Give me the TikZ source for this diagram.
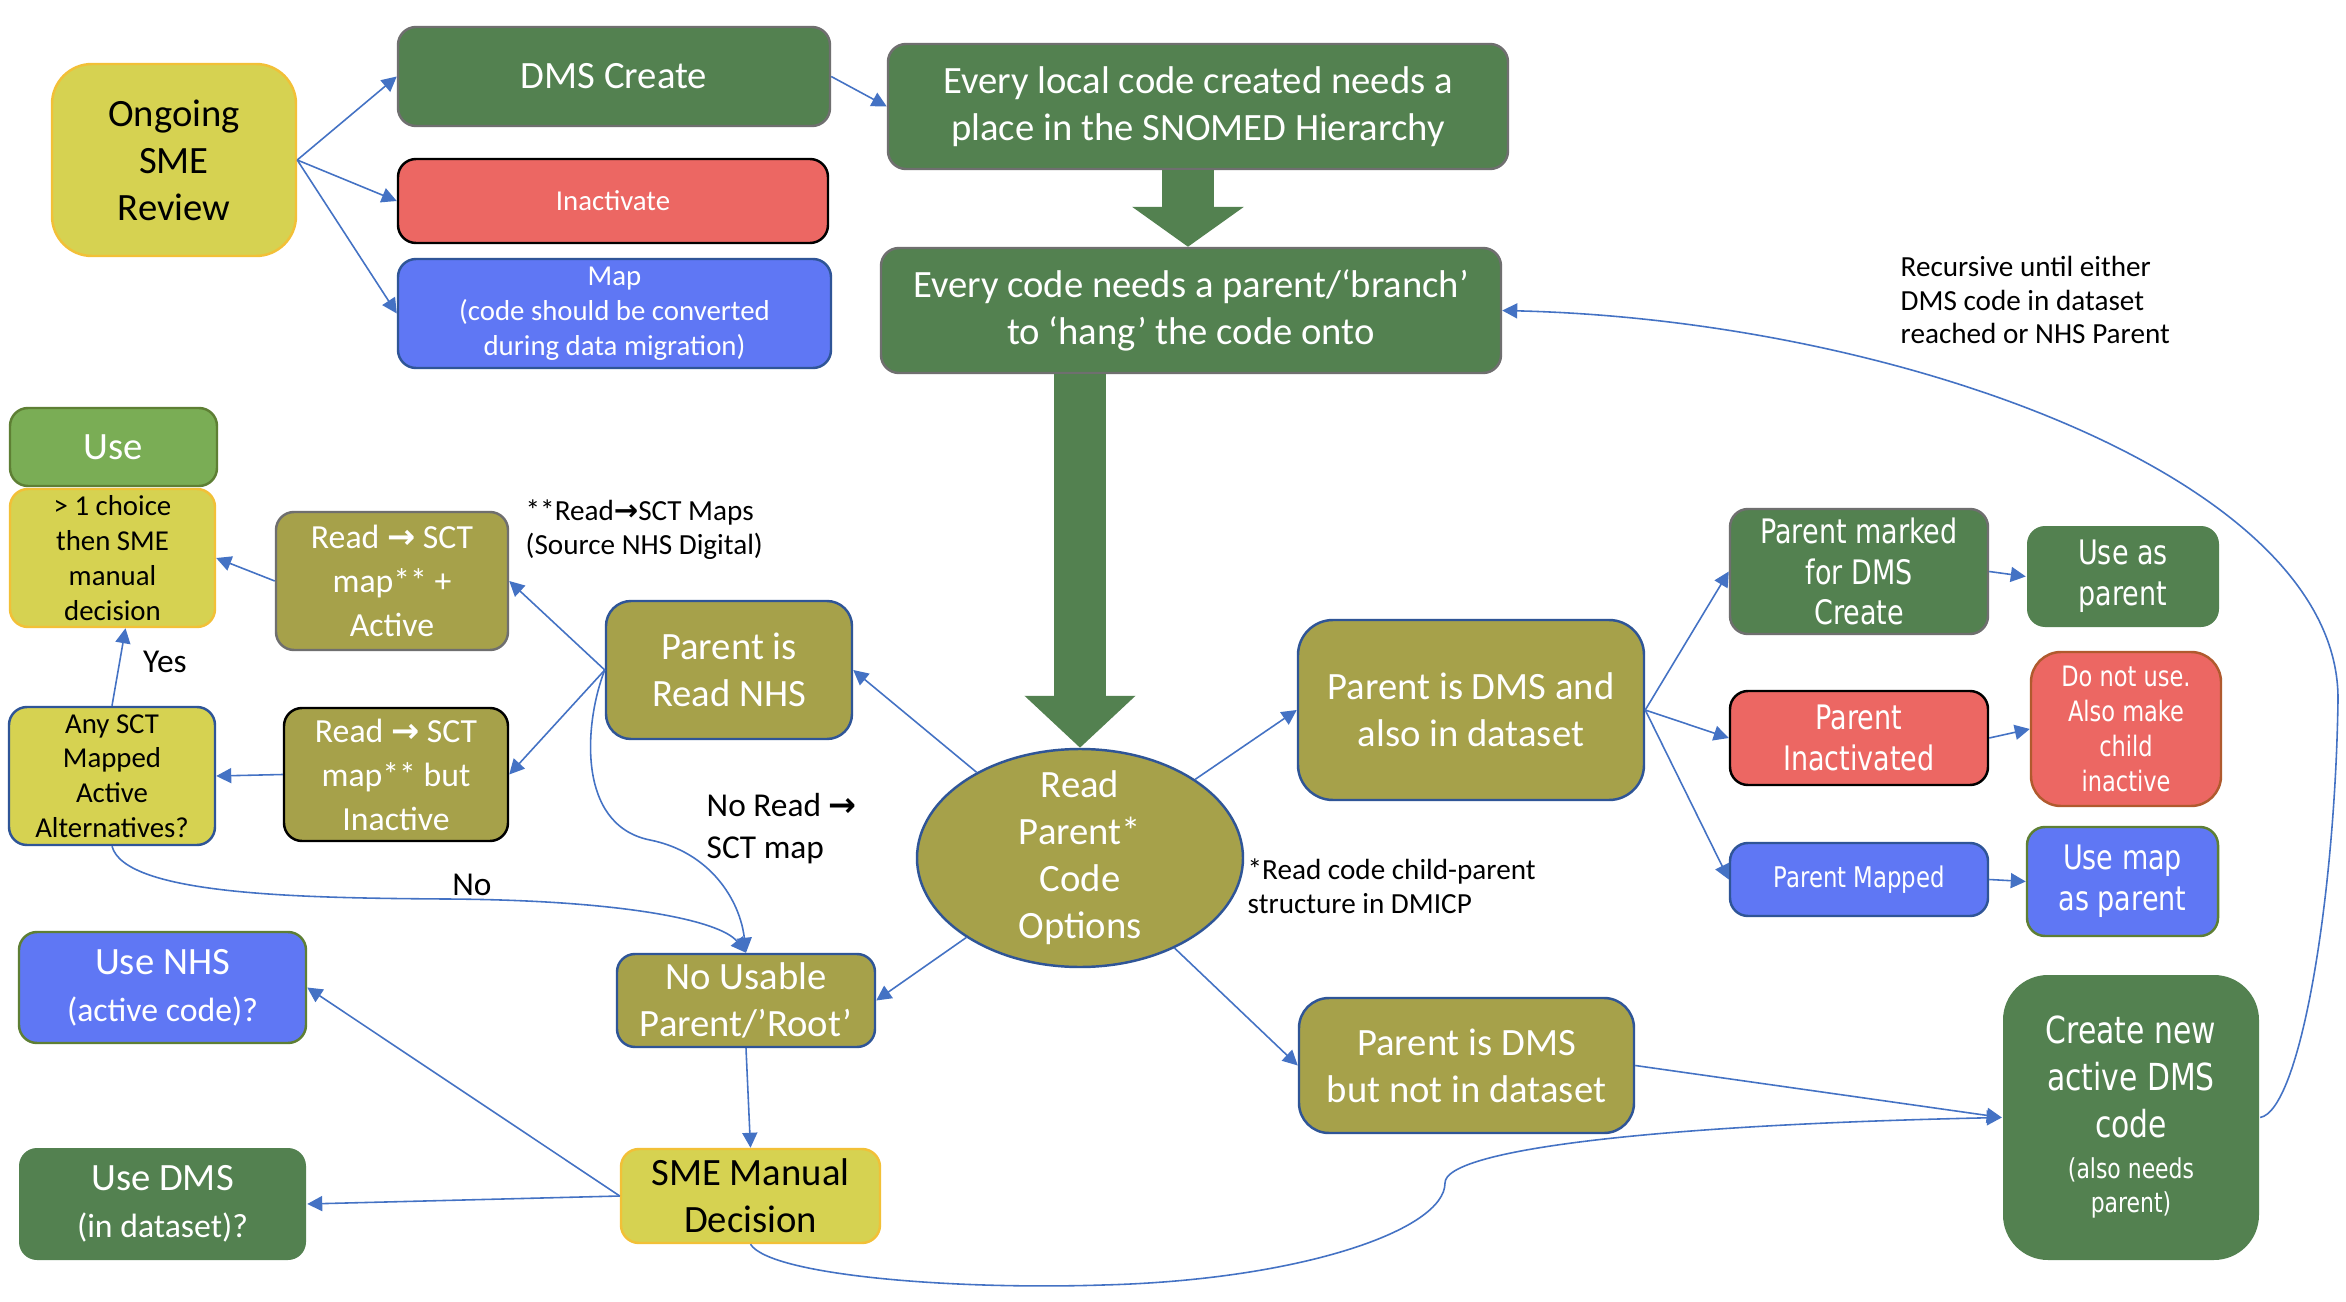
\documentclass[tikz,border=0pt]{standalone}
\usepackage{fontspec}
\setmainfont{Carlito}
\newfontfamily\verd[FakeStretch=0.8]{DejaVu Sans}
\newfontfamily\arrfont{DejaVu Sans}
\usetikzlibrary{arrows.meta, shapes.geometric}
\definecolor{dmsgreen}{HTML}{538150}
\definecolor{usegreen}{HTML}{7AAD55}
\definecolor{readolive}{HTML}{A6A14A}
\definecolor{smeyellow}{HTML}{D6D251}
\definecolor{inred}{HTML}{EC6763}
\definecolor{mapblue}{HTML}{5F77F4}
\definecolor{linkblue}{HTML}{4472C4}
\definecolor{edgeblue}{HTML}{2F5597}
\definecolor{edgegray}{HTML}{6F6F6F}
\definecolor{edgeorange}{HTML}{F2C037}
\definecolor{edgebrown}{HTML}{B05A2E}
\definecolor{edgeleaf}{HTML}{5E7F34}
\newcommand{\fbig}{\fontsize{11}{13.4}\selectfont}
\newcommand{\fmid}{\fontsize{9.6}{12.5}\selectfont}
\newcommand{\fsmall}{\fontsize{8.2}{9.9}\selectfont}
\newcommand{\fnote}{\fontsize{8.3}{9.6}\selectfont}
\newcommand{\sctarrow}{{\arrfont\bfseries →}}
\tikzset{
  % generic box
  box/.style={rounded corners=0.18cm, align=center, inner sep=1pt, line width=0.7pt},
  wh/.style 2 args={minimum width=#1cm, minimum height=#2cm},
  % box colours
  greenbox/.style={box, fill=dmsgreen, draw=edgegray, text=white},
  redbox/.style={box, fill=inred, draw=black, text=white},
  bluebox/.style={box, fill=mapblue, draw=edgeblue, text=white},
  olivebox/.style={box, fill=readolive, draw=edgeblue, text=white},
  yellowbox/.style={box, fill=smeyellow, draw=edgeorange, text=black},
  % connectors
  link/.style={-{Triangle[length=1.5mm, width=1.5mm]}, line width=0.45pt, linkblue},
  bigarrow/.style={line width=5.2mm, dmsgreen},
  % free text
  note/.style={anchor=west, align=left, inner sep=0pt, font=\fnote},
}
\begin{document}
\begin{tikzpicture}
  \useasboundingbox[fill=white] (0,0) rectangle (23.46,-13.02);
  % review column
  \node[yellowbox, wh={2.44}{1.92}, rounded corners=0.4cm, font=\fbig] (review) at (1.74,-1.60) {Ongoing\\SME\\Review};
  \node[greenbox, wh={4.32}{0.99}, font=\fbig] (dmscreate) at (6.14,-0.765) {DMS Create};
  \node[redbox, wh={4.30}{0.84}, font=\fsmall] (inact) at (6.13,-2.01) {Inactivate};
  \node[bluebox, wh={4.33}{1.09}, font=\fsmall] (map) at (6.145,-3.135) {Map\\(code should be converted\\during data migration)};
  % top of the main flow
  \node[greenbox, wh={6.20}{1.25}, font=\fbig] (local) at (11.98,-1.065) {Every local code created needs a\\place in the SNOMED Hierarchy};
  \node[greenbox, wh={6.20}{1.25}, font=\fbig] (every) at (11.91,-3.105) {Every code needs a parent/‘branch’\\to ‘hang’ the code onto};
  \node[note] (recursive) at (19.00,-3.00) {Recursive until either\\DMS code in dataset\\reached or NHS Parent};
  % read branch
  \node[box, fill=usegreen, draw=edgeleaf, text=white, wh={2.07}{0.78}, font=\fbig] (use) at (1.135,-4.47) {Use};
  \node[yellowbox, wh={2.05}{1.38}, font=\fsmall] (choice) at (1.125,-5.58) {> 1 choice\\then SME\\manual\\decision};
  \node[olivebox, draw=edgegray, wh={2.32}{1.38}, font=\fmid] (readact) at (3.92,-5.81) {Read \sctarrow{} SCT\\map** +\\Active};
  \node[note] (mapsnote) at (5.25,-5.30) {**Read\sctarrow SCT Maps\\(Source NHS Digital)};
  \node[olivebox, wh={2.46}{1.38}, rounded corners=0.25cm, font=\fbig] (readnhs) at (7.29,-6.70) {Parent is\\Read NHS};
  \node[font=\fontsize{9.5}{11}\selectfont, inner sep=0pt] (yes) at (1.65,-6.62) {Yes};
  \node[yellowbox, draw=edgeblue, wh={2.06}{1.38}, font=\fsmall] (anysct) at (1.12,-7.76) {Any SCT\\Mapped\\Active\\Alternatives?};
  \node[olivebox, draw=black, wh={2.24}{1.33}, font=\fmid] (readinact) at (3.96,-7.745) {Read \sctarrow{} SCT\\map** but\\Inactive};
  \node[note, font=\fontsize{9.5}{12}\selectfont] (noread) at (7.06,-8.29) {No Read \sctarrow\\SCT map};
  \node[font=\fontsize{9.5}{11}\selectfont, inner sep=0pt] (no) at (4.72,-8.85) {No};
  % centre
  \node[olivebox, ellipse, inner xsep=0pt, inner ysep=-0.15cm, wh={3.26}{2.18}, font=\fontsize{11}{13.4}\selectfont] (readopt) at (10.80,-8.58) {Read\\Parent*\\Code\\Options};
  \node[note] (childnote) at (12.47,-8.86) {*Read code child-parent\\structure in DMICP};
  \node[olivebox, wh={3.46}{1.80}, rounded corners=0.35cm, font=\fbig] (parentdms) at (14.71,-7.10) {Parent is DMS and\\also in dataset};
  \node[olivebox, wh={3.35}{1.35}, rounded corners=0.3cm, font=\fbig] (dmsnot) at (14.665,-10.655) {Parent is DMS\\but not in dataset};
  % DMS parent outcomes
  \node[greenbox, wh={2.58}{1.25}, font=\verd\fontsize{9.6}{11.6}\selectfont] (marked) at (18.59,-5.715) {Parent marked\\for DMS\\Create};
  \node[greenbox, draw=none, wh={1.92}{1.01}, font=\verd\fontsize{9.6}{11.6}\selectfont] (useas) at (21.23,-5.765) {Use as\\parent};
  \node[redbox, wh={2.58}{0.94}, font=\verd\fontsize{9.6}{11.6}\selectfont] (pinact) at (18.59,-7.38) {Parent\\Inactivated};
  \node[redbox, draw=edgebrown, wh={1.90}{1.54}, rounded corners=0.3cm, font=\verd\fontsize{8}{9.9}\selectfont] (donot) at (21.26,-7.29) {Do not use.\\Also make\\child\\inactive};
  \node[bluebox, wh={2.58}{0.73}, font=\verd\fontsize{8.1}{9.8}\selectfont] (pmapped) at (18.59,-8.795) {Parent Mapped};
  \node[bluebox, draw=edgeleaf, wh={1.91}{1.09}, font=\verd\fontsize{9.6}{11.6}\selectfont] (usemap) at (21.225,-8.815) {Use map\\as parent};
  \node[greenbox, draw=none, wh={2.56}{2.85}, rounded corners=0.45cm, font=\verd\fontsize{10.6}{13.3}\selectfont] (createnew) at (21.31,-11.175) {Create new\\active DMS\\code\\[-0.06cm]{\fontsize{7.8}{10}\selectfont (also needs}\\[-0.12cm]{\fontsize{7.8}{10}\selectfont parent)}};
  % no usable parent
  \node[olivebox, wh={2.58}{0.93}, font=\fbig] (nousable) at (7.46,-10.005) {No Usable\\Parent/’Root’};
  \node[yellowbox, wh={2.59}{0.94}, font=\fbig] (sme) at (7.505,-11.96) {SME Manual\\Decision};
  \node[bluebox, draw=edgeleaf, wh={2.87}{1.11}, font=\fbig] (usenhs) at (1.625,-9.875) {Use NHS\\{\fontsize{9.6}{12}\selectfont (active code)?}};
  \node[greenbox, draw=none, wh={2.87}{1.12}, font=\fbig] (usedms) at (1.625,-12.04) {Use DMS\\{\fontsize{9.6}{12}\selectfont (in dataset)?}};
  % block arrows
  \draw[bigarrow, -{Triangle[length=4mm, width=11mm]}] ([xshift=-1mm]local.south) -- ([xshift=-1mm]local.south |- every.north);
  \draw[bigarrow, -{Triangle[length=5.2mm, width=10.8mm]}] (readopt.north |- every.south) -- (readopt.north);
  % links
  \draw[link] (review.east) -- (dmscreate.west);
  \draw[link] (review.east) -- (inact.west);
  \draw[link] (review.east) -- (map.west);
  \draw[link] (dmscreate.east) -- (local.west);
  \draw[link] (readopt) -- (readnhs.east);
  \draw[link] (readnhs.west) -- (readact.east);
  \draw[link] (readnhs.west) -- (readinact.east);
  \draw[link] (readact.west) -- (choice.east);
  \draw[link] (anysct.north) -- ([xshift=1.3mm]choice.south);
  \draw[link] (readinact.west) -- (anysct.east);
  \draw[link] (anysct.south) .. controls (1.25,-8.95) and (3.00,-8.98) .. (4.46,-8.99) .. controls (6.20,-9.00) and (7.20,-9.20) .. (nousable.north);
  \draw[link] (readnhs.west) .. controls (5.85,-7.20) and (5.75,-8.25) .. (6.50,-8.40) .. controls (7.10,-8.52) and (7.40,-9.00) .. (nousable.north);
  \draw[link] (readopt) -- (nousable.east);
  \draw[link] (readopt) -- (parentdms.west);
  \draw[link] (readopt) -- (dmsnot.west);
  \draw[link] (parentdms.east) -- (marked.west);
  \draw[link] (parentdms.east) -- (pinact.west);
  \draw[link] (parentdms.east) -- (pmapped.west);
  \draw[link] (marked.east) -- (useas.west);
  \draw[link] (pinact.east) -- (donot.west);
  \draw[link] (pmapped.east) -- (usemap.west);
  \draw[link] (dmsnot.east) -- (createnew.west);
  \draw[link] (nousable.south) -- (sme.north);
  \draw[link] (sme.west) -- (usedms.east);
  \draw[link] (sme.west) -- (usenhs.east);
  \draw[link] (sme.south) .. controls (7.70,-12.75) and (9.50,-12.90) .. (11.03,-12.85) .. controls (13.00,-12.80) and (14.45,-12.30) .. (14.45,-11.83) .. controls (14.45,-11.50) and (16.50,-11.25) .. (createnew.west);
  \draw[link] (createnew.east) .. controls (23.00,-11.10) and (23.35,-9.00) .. (23.38,-7.00) .. controls (23.40,-4.80) and (19.00,-3.20) .. (every.east);
\end{tikzpicture}
\end{document}
